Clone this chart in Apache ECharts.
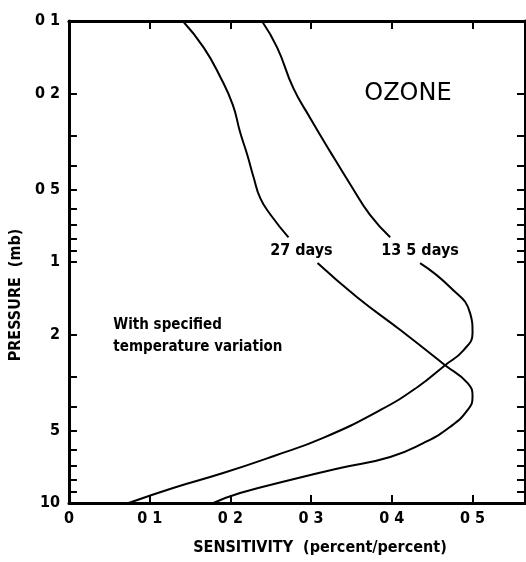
<!DOCTYPE html>
<html>
<head>
<meta charset="utf-8">
<script src="https://cdn.jsdelivr.net/npm/echarts@6/dist/echarts.min.js"></script>
<style>
  html, body { margin: 0; padding: 0; background: #fff; }
  #chart { width: 526px; height: 562px; }
</style>
</head>
<body>
<div id="chart"></div>
<script>
// Axis ticks and labels
const sensitivityTicks = [0, 0.1, 0.2, 0.3, 0.4, 0.5];
const sensitivityTickLabels = ['0', '0 1', '0 2', '0 3', '0 4', '0 5'];
const pressureLabelValues = [0.1, 0.2, 0.5, 1, 2, 5, 10];
const pressureTickLabels = ['0 1', '0 2', '0 5', '1', '2', '5', '10'];
const pressureMinorTicks = [0.2, 0.3, 0.4, 0.5, 0.6, 0.7, 0.8, 0.9, 1, 2, 3, 4, 5, 6, 7, 8, 9];

// Sensitivity profiles: [sensitivity, pressure (mb)]
const days27Upper = [[0.141, 0.1], [0.167, 0.129], [0.188, 0.172], [0.203, 0.223], [0.212, 0.289],
  [0.221, 0.360], [0.229, 0.448], [0.237, 0.543], [0.250, 0.638], [0.272, 0.79]];
const days27Lower = [[0.308, 1.01], [0.357, 1.40], [0.411, 1.92], [0.466, 2.68], [0.494, 3.18],
  [0.500, 3.63], [0.494, 4.11], [0.472, 4.84], [0.439, 5.64], [0.398, 6.44], [0.336, 7.16],
  [0.274, 8.03], [0.212, 9.09], [0.179, 10]];
const days135Upper = [[0.239, 0.1], [0.258, 0.129], [0.278, 0.190], [0.299, 0.253], [0.324, 0.350],
  [0.349, 0.479], [0.373, 0.638], [0.398, 0.79]];
const days135Lower = [[0.435, 1.01], [0.472, 1.27], [0.497, 1.63], [0.500, 1.97], [0.489, 2.32],
  [0.466, 2.68], [0.432, 3.30], [0.386, 4.11], [0.315, 5.37], [0.254, 6.38], [0.191, 7.51],
  [0.129, 8.66], [0.074, 10]];

// Text annotations placed in data coordinates
const curveLabels = [
  { name: '27 days', coord: [0.288, 0.9] },
  { name: '13 5 days', coord: [0.435, 0.9] }
];
const titleLabel = { name: 'OZONE', coord: [0.420, 0.201] };
const noteLabel = { name: 'With specified\ntemperature variation', coord: [0.055, 2.03] };

const FONT = '"DejaVu Sans Condensed", "DejaVu Sans", sans-serif';
const INK = '#000';

const chart = echarts.init(document.getElementById('chart'), null, { renderer: 'canvas' });

function lookup(values, labels) {
  return function (v) {
    for (let i = 0; i < values.length; i++) {
      if (Math.abs(values[i] - v) < 1e-9) return labels[i];
    }
    return '';
  };
}

const axisLine = { show: true, onZero: false, lineStyle: { color: INK, width: 3 } };
const tickStyle = { color: INK, width: 2 };

function curve(data, extra) {
  return Object.assign({
    type: 'line',
    data: data,
    xAxisIndex: 0,
    yAxisIndex: 0,
    showSymbol: false,
    smooth: 0.5,
    lineStyle: { color: INK, width: 2 },
    silent: true
  }, extra || {});
}

function textPoint(item, label) {
  return {
    symbol: 'circle',
    symbolSize: 0,
    itemStyle: { color: 'transparent' },
    label: Object.assign({
      show: true,
      formatter: '{b}',
      color: INK,
      fontFamily: FONT,
      fontWeight: 'bold'
    }, label),
    data: [{ name: item.name, coord: item.coord }]
  };
}

const option = {
  animation: false,
  backgroundColor: '#fff',
  grid: { left: 68.5, right: 1, top: 21, bottom: 59, containLabel: false },
  xAxis: [
    {
      type: 'value', position: 'bottom', min: 0, max: 0.565,
      axisLine: axisLine,
      axisTick: { show: true, inside: true, length: 8, lineStyle: tickStyle, customValues: [0.1, 0.2, 0.3, 0.4, 0.5] },
      axisLabel: {
        show: true, customValues: sensitivityTicks, margin: 8,
        formatter: lookup(sensitivityTicks, sensitivityTickLabels),
        color: INK, fontFamily: FONT, fontSize: 16, fontWeight: 'bold'
      },
      splitLine: { show: false },
      name: 'SENSITIVITY  (percent/percent)',
      nameLocation: 'middle', nameGap: 37,
      nameTextStyle: { color: INK, fontFamily: FONT, fontSize: 16, fontWeight: 'bold', padding: [0, 0, 0, 46] }
    },
    {
      type: 'value', position: 'top', min: 0, max: 0.565,
      axisLine: axisLine,
      axisTick: { show: true, inside: true, length: 8, lineStyle: tickStyle, customValues: [0.1, 0.2, 0.3, 0.4, 0.5] },
      axisLabel: { show: false },
      splitLine: { show: false }
    }
  ],
  yAxis: [
    {
      type: 'log', logBase: 10, position: 'left', min: 0.1, max: 10, inverse: true,
      axisLine: axisLine,
      axisTick: { show: true, inside: true, length: 8, lineStyle: tickStyle, customValues: pressureMinorTicks },
      axisLabel: {
        show: true, customValues: pressureLabelValues, margin: 9,
        formatter: lookup(pressureLabelValues, pressureTickLabels),
        color: INK, fontFamily: FONT, fontSize: 16, fontWeight: 'bold'
      },
      splitLine: { show: false },
      minorSplitLine: { show: false },
      name: 'PRESSURE  (mb)',
      nameLocation: 'middle', nameGap: 37,
      nameTextStyle: { color: INK, fontFamily: FONT, fontSize: 16, fontWeight: 'bold', padding: [0, 66, 0, 0] }
    },
    {
      type: 'log', logBase: 10, position: 'right', min: 0.1, max: 10, inverse: true,
      axisLine: axisLine,
      axisTick: { show: true, inside: true, length: 8, lineStyle: tickStyle, customValues: pressureMinorTicks },
      axisLabel: { show: false },
      splitLine: { show: false }
    }
  ],
  series: [
    curve(days27Upper, {
      markPoint: textPoint(curveLabels[0], { position: 'inside', fontSize: 16 })
    }),
    curve(days27Lower, {
      markPoint: textPoint(titleLabel, {
        position: 'inside', fontSize: 24, fontWeight: 'normal', fontFamily: '"DejaVu Sans", sans-serif'
      })
    }),
    curve(days135Upper, {
      markPoint: textPoint(curveLabels[1], { position: 'inside', fontSize: 16 })
    }),
    curve(days135Lower, {
      markPoint: textPoint(noteLabel, { position: 'right', distance: 0, align: 'left', fontSize: 15, lineHeight: 22 })
    })
  ]
};

chart.setOption(option);
</script>
</body>
</html>
